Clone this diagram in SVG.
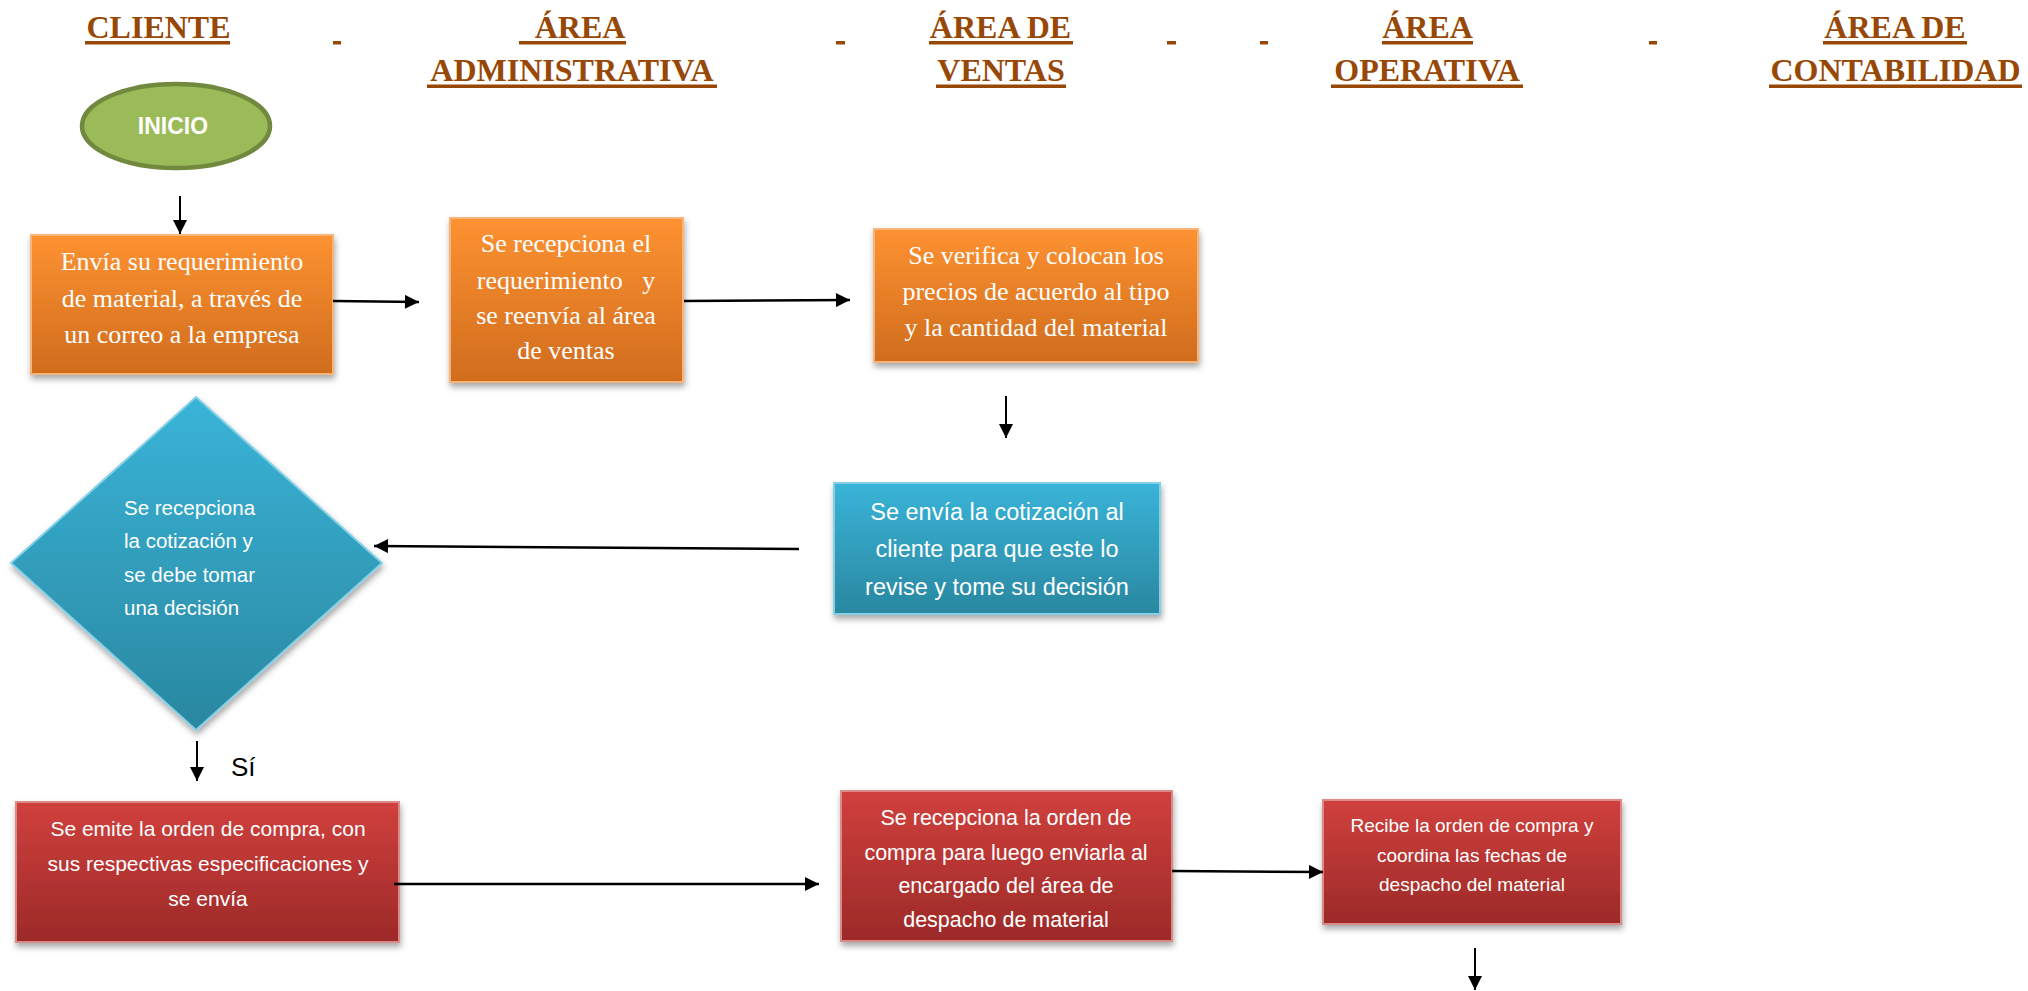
<svg xmlns="http://www.w3.org/2000/svg" width="2028" height="991" viewBox="0 0 2028 991">
<defs>
  <linearGradient id="gOrange" x1="0" y1="0" x2="0" y2="1">
    <stop offset="0" stop-color="#FD9231"/>
    <stop offset="1" stop-color="#D06C1E"/>
  </linearGradient>
  <linearGradient id="gBlue" x1="0" y1="0" x2="0" y2="1">
    <stop offset="0" stop-color="#39B4D8"/>
    <stop offset="1" stop-color="#2A87A0"/>
  </linearGradient>
  <linearGradient id="gRed" x1="0" y1="0" x2="0" y2="1">
    <stop offset="0" stop-color="#D0403D"/>
    <stop offset="1" stop-color="#9C2A28"/>
  </linearGradient>
  <filter id="shadow" x="-10%" y="-10%" width="130%" height="140%">
    <feDropShadow dx="1" dy="4" stdDeviation="3" flood-color="#000" flood-opacity="0.35"/>
  </filter>
  <marker id="arrow" viewBox="0 0 10 10" refX="10" refY="5" markerWidth="16" markerHeight="14" markerUnits="userSpaceOnUse" orient="auto">
    <path d="M0,0 L10,5 L0,10 z" fill="#000"/>
  </marker>
</defs>
<style>
  .hdr { font-family: "Liberation Serif", "Times New Roman", serif; font-weight: bold; font-size: 32px; fill: #984806; text-anchor: middle; }
  .ul { fill: #984806; }
  .orange { fill: url(#gOrange); stroke: #F7B57C; stroke-width: 2; filter: url(#shadow); }
  .blue { fill: url(#gBlue); stroke: #86D0E6; stroke-width: 2; filter: url(#shadow); }
  .red { fill: url(#gRed); stroke: #DA8A88; stroke-width: 2; filter: url(#shadow); }
  .tserif { font-family: "Liberation Serif", "Times New Roman", serif; font-size: 26px; fill: #fff; text-anchor: middle; }
  .tsans { font-family: "Liberation Sans", Arial, sans-serif; fill: #fff; text-anchor: middle; }
  .conn { stroke: #000; fill: none; marker-end: url(#arrow); }
</style>
<rect width="2028" height="991" fill="#fff"/>

<g id="headers">
  <text class="hdr" x="158.5" y="38">CLIENTE</text>
  <rect class="ul" x="85" y="41" width="145" height="3.5"/>
  <rect class="ul" x="333" y="41" width="8" height="3.5"/>
  <text class="hdr" x="580" y="38">ÁREA</text>
  <rect class="ul" x="519" y="41" width="107" height="3.5"/>
  <text class="hdr" x="572" y="81">ADMINISTRATIVA</text>
  <rect class="ul" x="427" y="84.5" width="290" height="3.5"/>
  <rect class="ul" x="836" y="41" width="9" height="3.5"/>
  <text class="hdr" x="1000.5" y="38">ÁREA DE</text>
  <rect class="ul" x="929" y="41" width="144" height="3.5"/>
  <text class="hdr" x="1001" y="81">VENTAS</text>
  <rect class="ul" x="936" y="84.5" width="130" height="3.5"/>
  <rect class="ul" x="1167" y="41" width="9" height="3.5"/>
  <rect class="ul" x="1260" y="41" width="8" height="3.5"/>
  <text class="hdr" x="1427.5" y="38">ÁREA</text>
  <rect class="ul" x="1382" y="41" width="91" height="3.5"/>
  <text class="hdr" x="1427" y="81">OPERATIVA</text>
  <rect class="ul" x="1331" y="84.5" width="192" height="3.5"/>
  <rect class="ul" x="1649" y="41" width="8" height="3.5"/>
  <text class="hdr" x="1895" y="38">ÁREA DE</text>
  <rect class="ul" x="1823" y="41" width="144" height="3.5"/>
  <text class="hdr" x="1895.5" y="81">CONTABILIDAD</text>
  <rect class="ul" x="1769" y="84.5" width="253" height="3.5"/>
</g>

<g id="inicio">
  <ellipse cx="176" cy="126" rx="94" ry="42" fill="#9BBB59" stroke="#71893F" stroke-width="4.5"/>
  <text class="tsans" x="173" y="134" font-size="23" font-weight="bold">INICIO</text>
</g>

<g id="n1">
  <rect class="orange" x="31" y="235" width="302" height="139"/>
  <text class="tserif" x="182" y="270">Envía su requerimiento</text>
  <text class="tserif" x="182" y="307">de material, a través de</text>
  <text class="tserif" x="182" y="343">un correo a la empresa</text>
</g>

<g id="n2">
  <rect class="orange" x="450" y="218" width="233" height="164"/>
  <text class="tserif" x="566" y="252">Se recepciona el</text>
  <text class="tserif" x="566" y="289" xml:space="preserve">requerimiento   y</text>
  <text class="tserif" x="566" y="324">se reenvía al área</text>
  <text class="tserif" x="566" y="359">de ventas</text>
</g>

<g id="n3">
  <rect class="orange" x="874" y="229" width="324" height="133"/>
  <text class="tserif" x="1036" y="264">Se verifica y colocan los</text>
  <text class="tserif" x="1036" y="300">precios de acuerdo al tipo</text>
  <text class="tserif" x="1036" y="336">y la cantidad del material</text>
</g>

<g id="n4">
  <rect class="blue" x="834" y="483" width="326" height="131"/>
  <text class="tsans" x="997" y="520" font-size="23.5">Se envía la cotización al</text>
  <text class="tsans" x="997" y="557" font-size="23.5">cliente para que este lo</text>
  <text class="tsans" x="997" y="595" font-size="23.5">revise y tome su decisión</text>
</g>

<g id="n5">
  <polygon class="blue" points="196,397 382,563 196,730 11,563"/>
  <g class="tsans" font-size="20.5" text-anchor="start">
    <text x="124" y="515" text-anchor="start">Se recepciona</text>
    <text x="124" y="548" text-anchor="start">la cotización y</text>
    <text x="124" y="582" text-anchor="start">se debe tomar</text>
    <text x="124" y="615" text-anchor="start">una decisión</text>
  </g>
</g>

<g id="n6">
  <rect class="red" x="16" y="802" width="383" height="140"/>
  <text class="tsans" x="208" y="836" font-size="21">Se emite la orden de compra, con</text>
  <text class="tsans" x="208" y="871" font-size="21">sus respectivas especificaciones y</text>
  <text class="tsans" x="208" y="906" font-size="21">se envía</text>
</g>

<g id="n7">
  <rect class="red" x="841" y="791" width="331" height="150"/>
  <text class="tsans" x="1006" y="825" font-size="21.5">Se recepciona la orden de</text>
  <text class="tsans" x="1006" y="860" font-size="21.5">compra para luego enviarla al</text>
  <text class="tsans" x="1006" y="893" font-size="21.5">encargado del área de</text>
  <text class="tsans" x="1006" y="927" font-size="21.5">despacho de material</text>
</g>

<g id="n8">
  <rect class="red" x="1323" y="800" width="298" height="124"/>
  <text class="tsans" x="1472" y="832" font-size="19">Recibe la orden de compra y</text>
  <text class="tsans" x="1472" y="862" font-size="19">coordina las fechas de</text>
  <text class="tsans" x="1472" y="891" font-size="19">despacho del material</text>
</g>

<g id="connectors">
  <line class="conn" x1="180" y1="196" x2="180" y2="234" stroke-width="2"/>
  <line class="conn" x1="333" y1="301" x2="419" y2="302" stroke-width="2.5"/>
  <line class="conn" x1="684" y1="301" x2="850" y2="300" stroke-width="2.5"/>
  <line class="conn" x1="1006" y1="396" x2="1006" y2="438" stroke-width="2"/>
  <line class="conn" x1="799" y1="549" x2="374" y2="546" stroke-width="2.5"/>
  <line class="conn" x1="197" y1="741" x2="197" y2="781" stroke-width="2"/>
  <line class="conn" x1="394" y1="884" x2="819" y2="884" stroke-width="2.5"/>
  <line class="conn" x1="1172" y1="871" x2="1323" y2="872" stroke-width="2.5"/>
  <line class="conn" x1="1475" y1="948" x2="1475" y2="990" stroke-width="2"/>
  <text x="231" y="776" font-family="Liberation Sans, Arial, sans-serif" font-size="26" fill="#000">Sí</text>
</g>
</svg>
